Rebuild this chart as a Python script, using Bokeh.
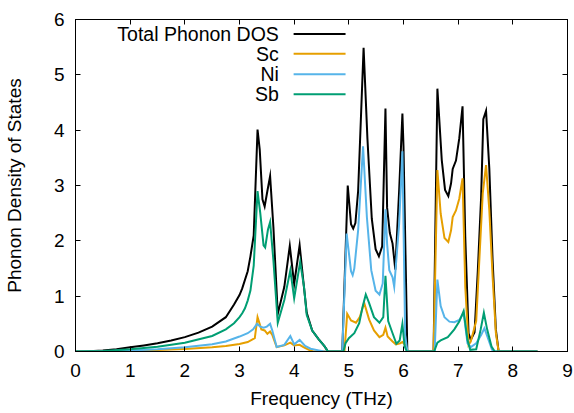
from bokeh.plotting import figure
from bokeh.models import Range1d, FixedTicker, LinearAxis, Label, Arrow
from bokeh.embed import file_html
from bokeh.resources import INLINE

# ---------------- data ----------------
x_ticks = [0, 1, 2, 3, 4, 5, 6, 7, 8, 9]
y_ticks = [0, 1, 2, 3, 4, 5, 6]

total_freq = [0.0, 0.25, 0.5, 0.75, 1.0, 1.25, 1.5, 1.75, 2.0, 2.25, 2.5, 2.75, 2.9, 3.0, 3.05, 3.15, 3.2, 3.26,
              3.33, 3.37, 3.42, 3.46, 3.51, 3.56, 3.62, 3.7, 3.82, 3.92, 4.0, 4.1, 4.17, 4.23, 4.33,
              4.45, 4.55, 4.62, 4.88, 4.98, 5.04, 5.08, 5.12, 5.17, 5.27, 5.34, 5.42, 5.49, 5.55,
              5.61, 5.67, 5.70, 5.75, 5.80, 5.85, 5.92, 5.98, 6.0, 6.07, 6.55, 6.62, 6.70, 6.76,
              6.82, 6.87, 6.90, 6.96, 7.02, 7.08, 7.13, 7.19, 7.23, 7.30, 7.36, 7.42, 7.46, 7.51,
              7.57, 7.63, 7.69, 7.74, 8.45]
total_dos = [0.0, 0.005, 0.02, 0.042, 0.075, 0.11, 0.15, 0.2, 0.26, 0.34, 0.45, 0.62, 0.85, 1.02, 1.14, 1.45, 1.72, 2.1,
             4.01, 3.65, 2.75, 2.62, 2.9, 3.17, 2.25, 0.68, 1.17, 1.91, 1.22, 1.92, 1.25, 0.7, 0.38,
             0.22, 0.1, 0.0, 0.0, 3.0, 2.3, 2.22, 2.32, 2.9, 5.49, 3.85, 2.4, 1.85, 1.72,
             1.9, 4.39, 2.6, 2.14, 1.95, 1.48, 2.9, 4.30, 3.7, 0.0, 0.0, 4.75, 3.46, 2.92,
             2.81, 3.04, 3.3, 3.45, 3.85, 4.43, 2.07, 0.33, 0.21, 0.35, 1.47, 2.79, 4.2, 4.35,
             3.3, 1.65, 0.39, 0.0, 0.0]

sc_freq = [0.0, 0.5, 1.0, 1.5, 2.0, 2.5, 2.75, 3.0, 3.15, 3.28, 3.33, 3.4, 3.46, 3.51, 3.56, 3.6,
           3.68, 3.82, 3.93, 4.0, 4.1, 4.17, 4.27, 4.35, 4.92, 4.97, 5.04, 5.13, 5.2, 5.28, 5.37,
           5.46, 5.56, 5.63, 5.67, 5.71, 5.8, 5.86, 5.94, 5.98, 6.03, 6.08, 6.55, 6.62, 6.68,
           6.75, 6.82, 6.87, 6.9, 6.96, 7.02, 7.08, 7.13, 7.19, 7.23, 7.33, 7.39, 7.45, 7.51,
           7.57, 7.63, 7.69, 7.74, 8.45]
sc_dos = [0.0, 0.003, 0.012, 0.025, 0.045, 0.075, 0.1, 0.135, 0.17, 0.24, 0.62, 0.4, 0.38, 0.32, 0.36, 0.3,
          0.08, 0.11, 0.16, 0.11, 0.12, 0.08, 0.03, 0.0, 0.0, 0.68, 0.56, 0.52, 0.62, 0.88, 0.58,
          0.38, 0.26, 0.3, 0.43, 0.27, 0.18, 0.13, 0.15, 0.17, 0.12, 0.0, 0.0, 3.28, 2.49,
          2.05, 1.98, 2.19, 2.43, 2.55, 2.76, 3.13, 1.17, 0.12, 0.18, 0.55, 1.71, 2.86, 3.37,
          2.55, 1.35, 0.33, 0.0, 0.0]

ni_freq = [0.0, 0.5, 1.0, 1.5, 2.0, 2.5, 2.75, 3.0, 3.15, 3.25, 3.32, 3.38, 3.44, 3.5, 3.56, 3.6,
           3.68, 3.82, 3.93, 4.0, 4.1, 4.2, 4.3, 4.45, 4.55, 4.88, 4.96, 5.04, 5.07, 5.10, 5.17,
           5.26, 5.33, 5.41, 5.49, 5.56, 5.62, 5.67, 5.70, 5.74, 5.80, 5.83, 5.92, 5.98, 6.03,
           6.07, 6.57, 6.62, 6.68, 6.75, 6.84, 6.93, 7.02, 7.10, 7.17, 7.23, 7.33, 7.42, 7.48,
           7.53, 7.62, 7.67, 8.45]
ni_dos = [0.0, 0.005, 0.02, 0.04, 0.076, 0.13, 0.18, 0.27, 0.33, 0.4, 0.5, 0.45, 0.43, 0.45, 0.5, 0.38,
          0.08, 0.12, 0.28, 0.13, 0.21, 0.1, 0.05, 0.02, 0.0, 0.0, 2.13, 1.45, 1.38, 1.5, 2.19,
          3.71, 2.43, 1.47, 1.1, 1.03, 1.23, 2.57, 1.95, 1.47, 1.34, 1.17, 2.3, 3.62, 0.3,
          0.0, 0.0, 1.30, 0.82, 0.62, 0.54, 0.53, 0.57, 0.70, 0.15, 0.08, 0.15, 0.30, 0.42,
          0.28, 0.03, 0.0, 0.0]

sb_freq = [0.0, 0.5, 1.0, 1.5, 2.0, 2.5, 2.75, 2.9, 3.0, 3.05, 3.1, 3.15, 3.2, 3.26, 3.33, 3.38, 3.44, 3.47, 3.52,
           3.56, 3.62, 3.7, 3.82, 3.93, 4.0, 4.11, 4.18, 4.23, 4.33, 4.45, 4.55, 4.62, 4.9, 4.94,
           5.0, 5.1, 5.19, 5.25, 5.31, 5.37, 5.46, 5.56, 5.63, 5.67, 5.72, 5.8, 5.87, 5.93,
           5.98, 6.02, 6.06, 6.56, 6.62, 6.68, 6.81, 6.93, 7.02, 7.10, 7.17, 7.22, 7.33, 7.41,
           7.47, 7.53, 7.61, 7.67, 8.45]
sb_dos = [0.0, 0.01, 0.042, 0.085, 0.16, 0.28, 0.4, 0.51, 0.62, 0.69, 0.78, 0.92, 1.1, 1.55, 2.9, 2.5, 1.92, 1.88, 2.2,
          2.34, 1.65, 0.52, 0.93, 1.47, 0.96, 1.62, 1.17, 0.66, 0.38, 0.22, 0.1, 0.0, 0.0, 0.15,
          0.24, 0.33, 0.51, 0.8, 1.03, 0.88, 0.62, 0.52, 0.62, 1.37, 0.55, 0.33, 0.14, 0.2,
          0.5, 0.1, 0.0, 0.0, 0.16, 0.2, 0.26, 0.4, 0.54, 0.73, 0.21, 0.03, 0.04, 0.39,
          0.70, 0.40, 0.09, 0.0, 0.0]

series_names = ["Total Phonon DOS", "Sc", "Ni", "Sb"]
series_colors = ["#000000", "#e69f00", "#56b4e9", "#009e73"]

# ---------------- figure ----------------
FONT = "Liberation Sans"
FS = "19px"
KEY_FS = "19.5px"

p = figure(width=574, height=413, output_backend="svg", toolbar_location=None,
           x_range=Range1d(0, 9), y_range=Range1d(0, 6),
           min_border_left=75, min_border_right=7, min_border_top=19, min_border_bottom=62)
p.grid.visible = False
p.outline_line_color = "black"
p.outline_line_width = 1
p.background_fill_color = "white"
p.border_fill_color = "white"

def style_axis(ax, labels=True):
    ax.major_tick_in = 5
    ax.major_tick_out = 0
    ax.minor_tick_in = 0
    ax.minor_tick_out = 0
    ax.axis_line_color = "black"
    ax.major_tick_line_color = "black"
    ax.major_label_text_font = FONT
    ax.major_label_text_color = "black"
    ax.axis_label_text_font = FONT
    ax.axis_label_text_font_size = FS
    ax.axis_label_text_font_style = "normal"
    ax.axis_label_text_color = "black"
    if labels:
        ax.major_label_text_font_size = FS
    else:
        ax.major_label_text_font_size = "0px"
        ax.major_label_standoff = 0
        ax.axis_label_standoff = 0

xa = p.xaxis[0]
ya = p.yaxis[0]
xa.ticker = FixedTicker(ticks=x_ticks)
ya.ticker = FixedTicker(ticks=y_ticks)
style_axis(xa)
style_axis(ya)
xa.axis_label = "Frequency (THz)"
ya.axis_label = "Phonon Density of States"
xa.major_label_standoff = 12
ya.major_label_standoff = 11
xa.axis_label_standoff = 8
ya.axis_label_standoff = 26

top = LinearAxis(ticker=FixedTicker(ticks=x_ticks))
right = LinearAxis(ticker=FixedTicker(ticks=y_ticks))
style_axis(top, labels=False)
style_axis(right, labels=False)
top.major_label_overrides = {t: "" for t in x_ticks}
right.major_label_overrides = {t: "" for t in y_ticks}
p.add_layout(top, "above")
p.add_layout(right, "right")

data = [(total_freq, total_dos), (sc_freq, sc_dos), (ni_freq, ni_dos), (sb_freq, sb_dos)]
for (fx, fy), c in zip(data, series_colors):
    p.line(fx, fy, line_color=c, line_width=2, line_join="miter")

# ---------------- key (gnuplot style: text then sample) ----------------
key_text_x = 3.72
key_line_x0 = 3.99
key_line_x1 = 4.94
key_rows_y = [5.74, 5.38, 5.01, 4.65]
for name, c, yy in zip(series_names, series_colors, key_rows_y):
    p.add_layout(Label(x=key_text_x, y=yy, text=name, text_align="right", text_baseline="middle",
                       text_font=FONT, text_font_size=KEY_FS, text_color="black"))
    p.add_layout(Arrow(end=None, x_start=key_line_x0, y_start=yy, x_end=key_line_x1, y_end=yy,
                       line_color=c, line_width=2))

open("out.html", "w").write(file_html(p, INLINE))
